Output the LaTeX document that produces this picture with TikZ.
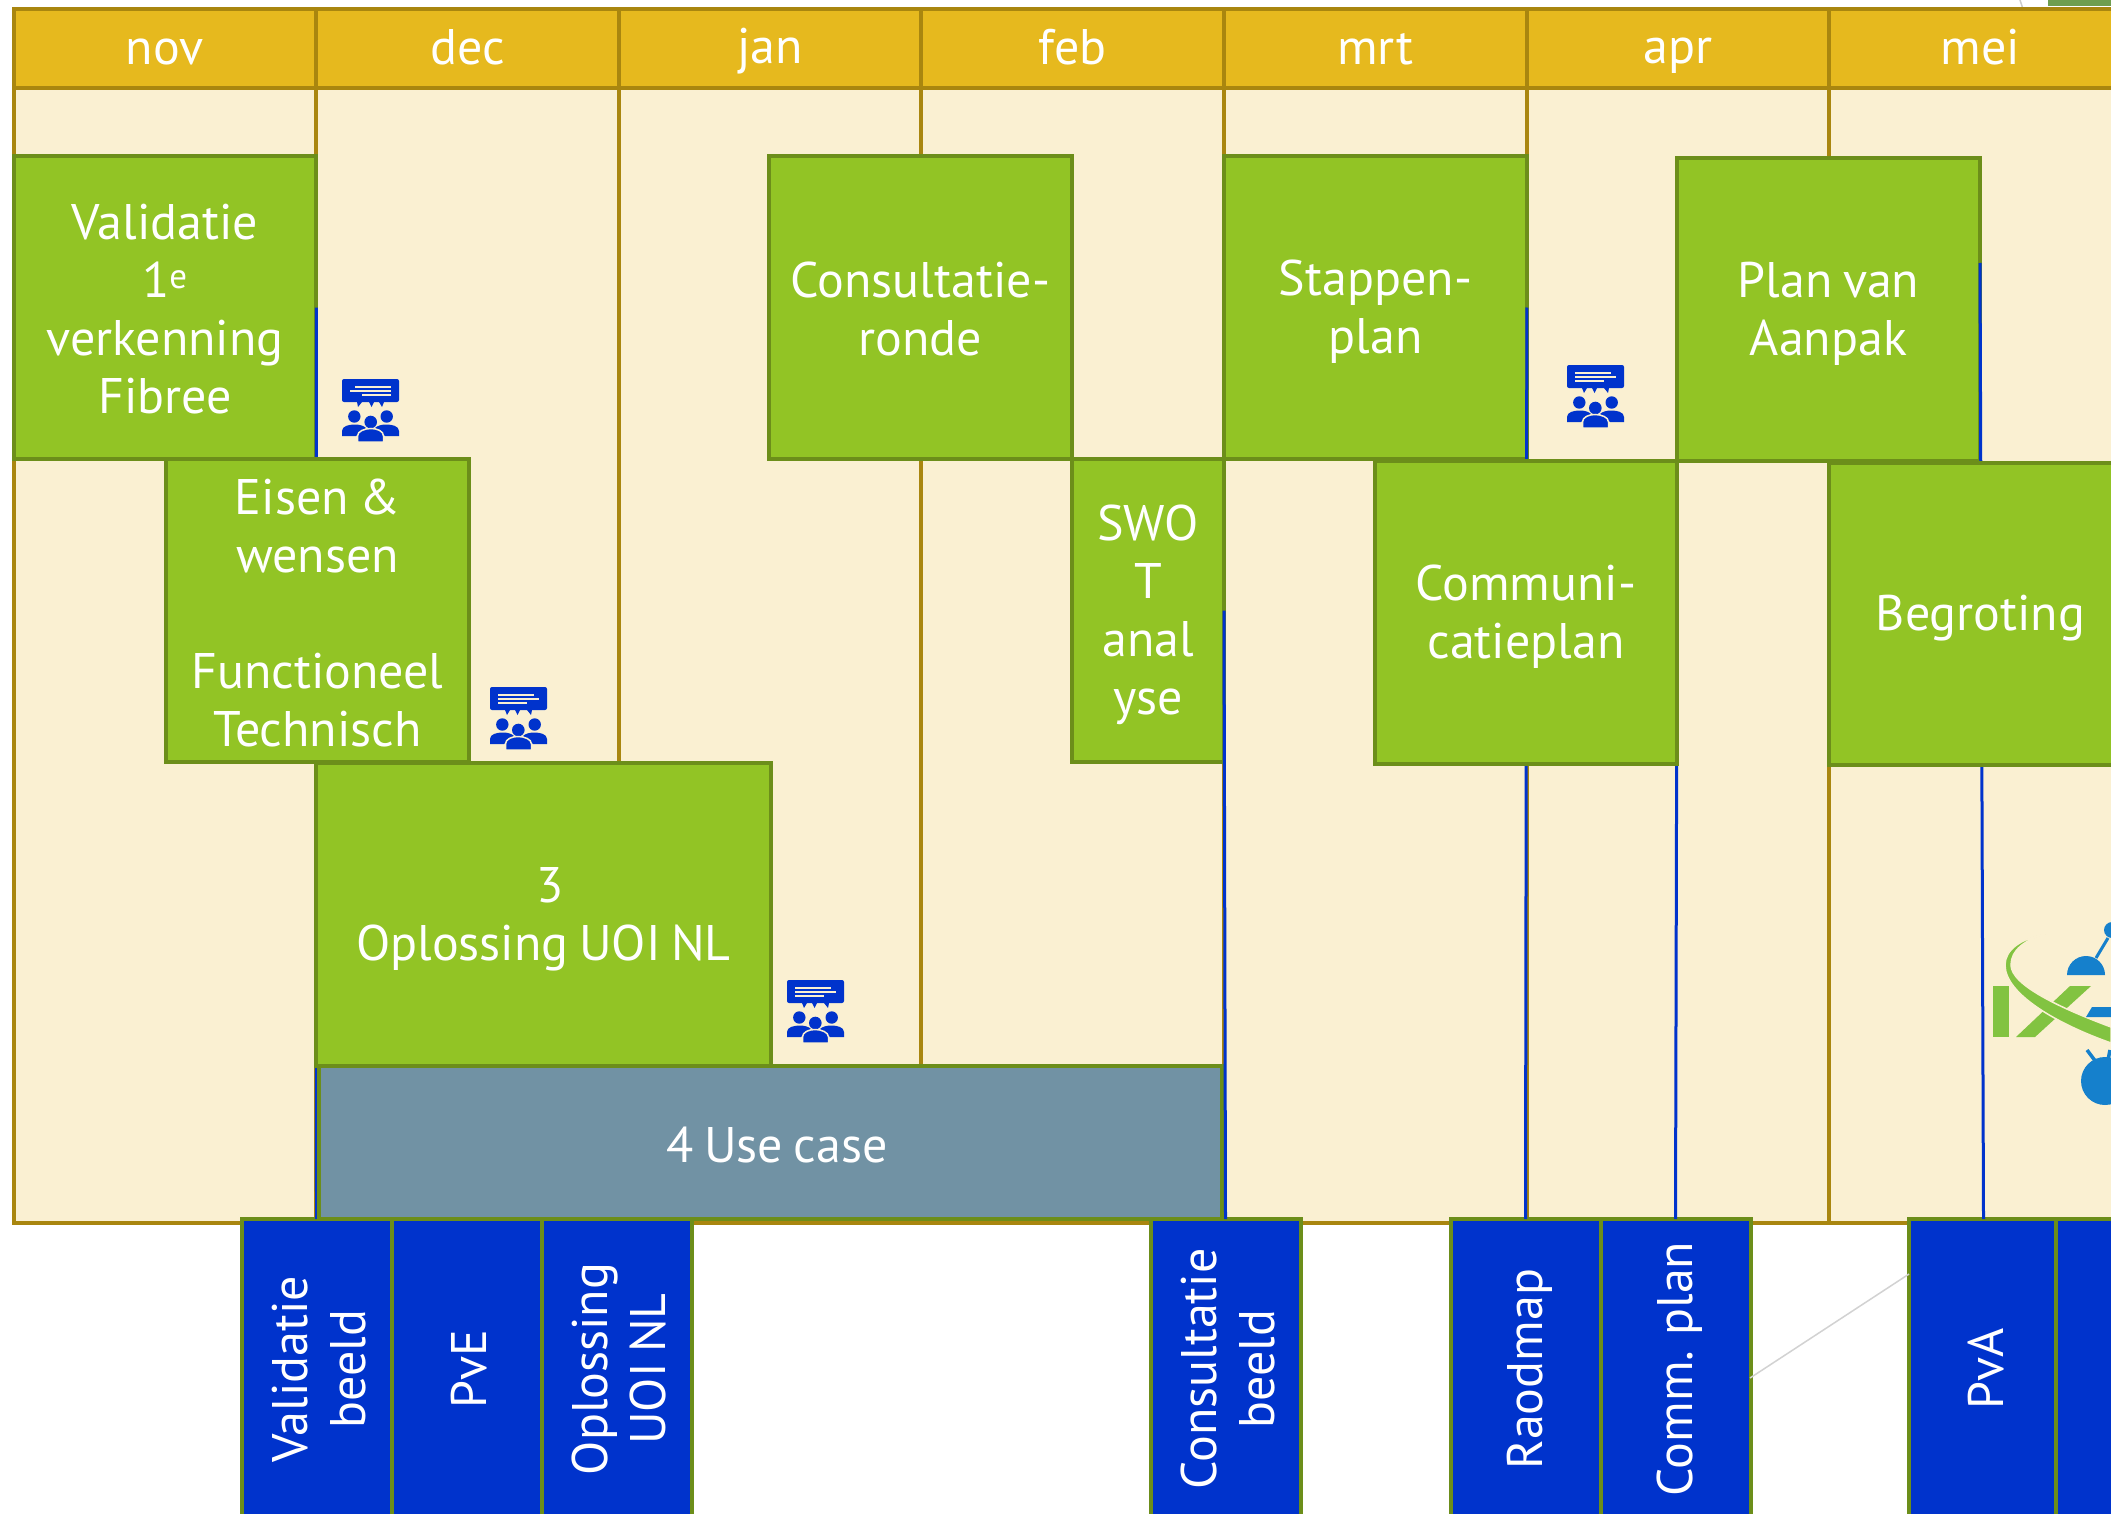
\documentclass[tikz,border=0pt]{standalone}
\usepackage{fontspec}
\setmainfont[WordSpace=0.8]{PT Sans}
\definecolor{goldfill}{HTML}{E6B91E}
\definecolor{goldline}{HTML}{A9860F}
\definecolor{palefill}{HTML}{FAF0D2}
\definecolor{greenfill}{HTML}{92C425}
\definecolor{greenline}{HTML}{6C8E1A}
\definecolor{bluefill}{HTML}{0033CC}
\definecolor{slatefill}{HTML}{7192A4}
\definecolor{logogreen}{HTML}{82C341}
\definecolor{logoblue}{HTML}{1580CC}
\definecolor{cornergreen}{HTML}{6F9E50}
\newcommand{\boxstrut}{\rule[-5pt]{0pt}{49pt}}
\newcommand{\monthstrut}{\rule[-7pt]{0pt}{47pt}}
\tikzset{
    monthbox/.style={rectangle, draw=goldline, fill=goldfill, line width=4pt, text=white, minimum width=302.6pt, minimum height=79pt, inner sep=0pt, outer sep=0pt, font=\fontsize{50}{58}\selectfont, execute at begin node=\monthstrut},
    monthline/.style={draw=goldline, line width=4pt},
    taskbox/.style={rectangle, draw=greenline, fill=greenfill, line width=4pt, text=white, text width=280pt, align=flush center, minimum width=302.7pt, minimum height=302.7pt, inner sep=0pt, outer sep=0pt, font=\fontsize{50}{58}\selectfont, execute at begin node=\boxstrut, execute at end node=\boxstrut},
    usebox/.style={taskbox, fill=slatefill, minimum width=903pt, minimum height=153pt},
    docbox/.style={rectangle, draw=greenline, fill=bluefill, line width=4pt, text=white, text width=280pt, align=flush center, minimum width=300pt, minimum height=150pt, inner sep=0pt, outer sep=0pt, rotate=90, font=\fontsize{50}{58}\selectfont, execute at begin node=\boxstrut, execute at end node=\boxstrut},
    docline/.style={draw=bluefill, line width=3pt},
    meeting/.pic={
        \fill[bluefill, rounded corners=2pt] (0,0) rectangle (57,23);
        \fill[bluefill] (15,23)--(17,28)--(20,23)--cycle (25,23)--(27.5,28)--(30,23)--cycle (37,23)--(41,28)--(42,23)--cycle;
        \draw[palefill, line width=1.3pt] (8,8)--(44,8) (8,12)--(49,12) (8,16)--(37,16);
        \fill[bluefill] (12.3,37.5) circle (6.2) (44.7,37.5) circle (6.2) (28.3,43) circle (6.3);
        \fill[bluefill] (0,57)--(0,52) .. controls (0,47) and (7,45.5) .. (13,45.5) .. controls (18,45.5) and (22,47) .. (24,49)--(14,57)--cycle;
        \fill[bluefill] (57,57)--(57,52) .. controls (57,47) and (50,45.5) .. (44,45.5) .. controls (39,45.5) and (35,47) .. (33,49)--(43,57)--cycle;
        \filldraw[fill=bluefill, draw=palefill, line width=1.5pt] (15.5,63)--(15.5,57) .. controls (15.5,52) and (22,49.5) .. (28,49.5) .. controls (34,49.5) and (41.5,52) .. (41.5,57)--(41.5,63)--cycle;
    }
}
\begin{document}
\begin{tikzpicture}[x=1pt, y=-1pt]
    \path[use as bounding box] (0,0) rectangle (2111,1514);
    \clip (0,0) rectangle (2111,1514);
    \fill[white] (0,0) rectangle (2111,1514);
    \fill[cornergreen] (2048,0) rectangle (2111,6);
    \coordinate (g0) at (2020,0);
    \coordinate (g1) at (2023,9);
    \draw[gray!40, line width=1.5pt] (g0)--(g1);

    \node[monthbox](m0) at (164.8,48.5){nov};
    \node[monthbox, node distance=302.6pt, right of=m0](m1){dec};
    \node[monthbox, node distance=302.6pt, right of=m1](m2){jan};
    \node[monthbox, node distance=302.6pt, right of=m2](m3){feb};
    \node[monthbox, node distance=302.6pt, right of=m3](m4){mrt};
    \node[monthbox, node distance=302.6pt, right of=m4](m5){apr};
    \node[monthbox, node distance=302.6pt, right of=m5](m6){mei};
    \node[rectangle, draw=goldline, fill=palefill, line width=4pt, minimum width=2119pt, minimum height=1135pt, inner sep=0pt, outer sep=0pt](area) at (1073,655.5){};
    \path[monthline](m0.south east)--(m0.south east |- area.south);
    \path[monthline](m1.south east)--(m1.south east |- area.south);
    \path[monthline](m2.south east)--(m2.south east |- area.south);
    \path[monthline](m3.south east)--(m3.south east |- area.south);
    \path[monthline](m4.south east)--(m4.south east |- area.south);
    \path[monthline](m5.south east)--(m5.south east |- area.south);

    \node[docbox](d0) at (316.5,1369){Validatie\\beeld};
    \node[docbox](d1) at (466.5,1369){PvE};
    \node[docbox](d2) at (616.5,1369){Oplossing\\UOI NL};
    \node[docbox](d3) at (1225.5,1369){Consultatie\\beeld};
    \node[docbox](d4) at (1525.5,1369){Raodmap};
    \node[docbox](d5) at (1675.5,1369){Comm. plan};
    \node[docbox](d6) at (1983.5,1369){PvA};
    \node[docbox](d7) at (2131,1369){};
    \coordinate (g2) at (1750,1378);
    \coordinate (g3) at (1909,1274);
    \draw[gray!35, line width=1.5pt] (g2)--(g3);

    \node[taskbox](b0) at (165,307.5){Validatie\\1\textsuperscript{e}\\verkenning\\Fibree};
    \path[docline](b0.east)--(d0.east);
    \node[taskbox](b1) at (317.5,610.5){Eisen \&\\wensen\\[58pt]Functioneel\\Technisch};
    \node[taskbox, minimum width=455pt, text width=440pt](b2) at (543.5,914.5){\hspace*{13pt}3\\Oplossing UOI NL};
    \node[usebox](b3) at (770.5,1142.5){\hspace*{13pt}4 Use case};
    \node[taskbox](b4) at (920.5,307.5){Consultatie-\\ronde};
    \node[taskbox, minimum width=152pt, text width=130pt](b5) at (1148,610.5){SWO\\T\\anal\\yse};
    \path[docline](b5.east)--(d3.east);
    \node[taskbox](b6) at (1375.5,307.5){Stappen-\\plan};
    \path[docline](b6.east)--(d4.east);
    \coordinate (c8) at (1677,612);
    \path[docline](c8)--(d5.east);
    \node[taskbox](b7) at (1526,612.5){Communi-\\catieplan};
    \node[taskbox](b8) at (1828.5,309.5){Plan van\\Aanpak};
    \coordinate (c9) at (1980,263);
    \path[docline](c9)--(d6.east);
    \node[taskbox](b9) at (1980.5,614){Begroting};

    \pic[xscale=-1] at (399,379) {meeting};
    \pic at (490,687) {meeting};
    \pic at (787,980) {meeting};
    \pic at (1567,365) {meeting};

    \fill[logogreen] (1993,986) rectangle (2009,1037);
    \fill[logogreen] (2070,986)--(2091,986)--(2035,1037)--(2016,1037)--cycle;
    \filldraw[fill=logogreen, draw=palefill, line width=1.5pt] (2045,934) .. controls (2020,939) and (2005,950) .. (2005,965) .. controls (2005,995) and (2060,1025) .. (2111,1043)--(2111,1027) .. controls (2060,1008) and (2011,985) .. (2011,965) .. controls (2011,950) and (2025,940) .. (2045,934);
    \fill[logoblue] (2067,975) arc[start angle=180, end angle=360, radius=19]--cycle;
    \draw[logoblue, line width=3pt] (2096,958)--(2108,938);
    \fill[logoblue] (2112,930) circle (8);
    \fill[logoblue] (2092,1007)--(2111,1007)--(2111,1017)--(2086,1017)--cycle;
    \fill[logoblue] (2105,1081) circle (24);
    \draw[logoblue, line width=3.5pt] (2087,1050)--(2096,1062) (2110,1050)--(2108,1060);
\end{tikzpicture}
\end{document}
